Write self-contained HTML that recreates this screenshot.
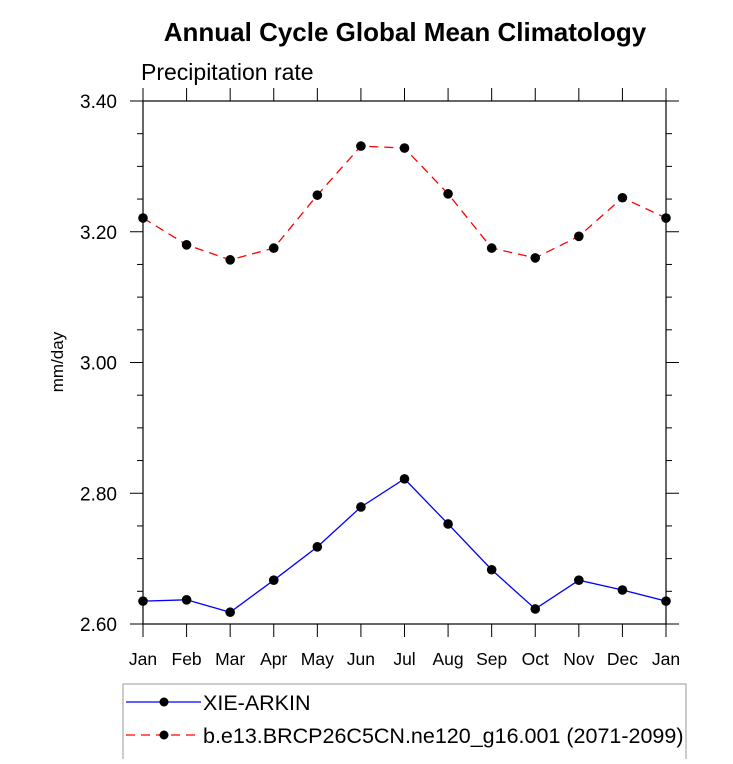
<!DOCTYPE html>
<html><head><meta charset="utf-8"><style>
html,body{margin:0;padding:0;background:#fff;}
svg text{font-family:"Liberation Sans",sans-serif;}
</style></head><body>
<svg width="733" height="759" xmlns="http://www.w3.org/2000/svg">
<text x="405" y="41" text-anchor="middle" font-size="26" font-weight="bold">Annual Cycle Global Mean Climatology</text>
<text x="141" y="80" font-size="23">Precipitation rate</text>
<text transform="translate(63,362) rotate(-90)" text-anchor="middle" font-size="17">mm/day</text>
<g id="axes"></g>
<g id="series"></g>
<rect x="123" y="684" width="563" height="76" fill="none" stroke="#999" stroke-width="1"/>
<g>
<line x1="126" y1="702" x2="201" y2="702" stroke="#00f" stroke-width="1.3"/>
<circle cx="164" cy="702" r="4.5" fill="#000"/>
<text x="203" y="710" font-size="21.5">XIE-ARKIN</text>
</g>
<g>
<line x1="126" y1="735" x2="201" y2="735" stroke="#f00" stroke-width="1.3" stroke-dasharray="9,6"/>
<circle cx="164" cy="735" r="4.5" fill="#000"/>
<text x="203" y="743" font-size="21.5">b.e13.BRCP26C5CN.ne120_g16.001 (2071-2099)</text>
</g>
</svg>
<script>
const months=["Jan","Feb","Mar","Apr","May","Jun","Jul","Aug","Sep","Oct","Nov","Dec","Jan"];
const yTicks=[2.6,2.8,3.0,3.2,3.4];
const yTickLabels=["2.60","2.80","3.00","3.20","3.40"];
const xieValues=[2.635,2.637,2.618,2.667,2.718,2.779,2.822,2.753,2.683,2.623,2.667,2.652,2.635];
const modelValues=[3.221,3.180,3.157,3.175,3.256,3.331,3.328,3.258,3.175,3.160,3.193,3.252,3.221];
const L=143,R=666,T=101,B=624,X0=143,X1=666,YMIN=2.6,YMAX=3.4;
const NS="http://www.w3.org/2000/svg";
function xs(i){return X0+(X1-X0)*i/(months.length-1);}
function ys(v){return B-(v-YMIN)/(YMAX-YMIN)*(B-T);}
function mk(tag,attrs,parent){const e=document.createElementNS(NS,tag);for(const k in attrs)e.setAttribute(k,attrs[k]);parent.appendChild(e);return e;}
const ax=document.getElementById('axes');
const fr=mk('rect',{x:L,y:T,width:R-L,height:B-T,fill:'none',stroke:'#000','stroke-width':1.2},ax);


months.forEach((m,i)=>{
  const x=xs(i);
  mk('line',{x1:x,y1:B,x2:x,y2:B+13,stroke:'#000'},ax);
  mk('line',{x1:x,y1:T,x2:x,y2:T-13,stroke:'#000'},ax);
  const t=mk('text',{x:x,y:B+41,'text-anchor':'middle','font-size':17.5},ax);
  t.textContent=m;
  
  
});
yTicks.forEach((v,i)=>{
  const y=ys(v);
  mk('line',{x1:L-13,y1:y,x2:L,y2:y,stroke:'#000'},ax);
  mk('line',{x1:R,y1:y,x2:R+13,y2:y,stroke:'#000'},ax);
  const t=mk('text',{x:117,y:y+7,'text-anchor':'end','font-size':19},ax);
  t.textContent=yTickLabels[i];
  
  
  if(i<yTicks.length-1){
    for(let k=1;k<4;k++){
      const yy=ys(v+(yTicks[i+1]-v)*k/4);
      mk('line',{x1:L-6,y1:yy,x2:L,y2:yy,stroke:'#000'},ax);
      mk('line',{x1:R,y1:yy,x2:R+6,y2:yy,stroke:'#000'},ax);
    }
  }
});
const sg=document.getElementById('series');
function drawSeries(vals,color,dash,name){
  const pts=vals.map((v,i)=>xs(i)+','+ys(v)).join(' ');
  const pl=mk('polyline',{points:pts,fill:'none',stroke:color,'stroke-width':1.3},sg);
  if(dash)pl.setAttribute('stroke-dasharray',dash);
  
  
  vals.forEach((v,i)=>{
    const c=mk('circle',{cx:xs(i),cy:ys(v),r:4.8,fill:'#000'},sg);
    
    
  });
}
drawSeries(xieValues,'#00f',null,'xie-arkin');
drawSeries(modelValues,'#f00','9,6','model');
</script>
</body></html>
